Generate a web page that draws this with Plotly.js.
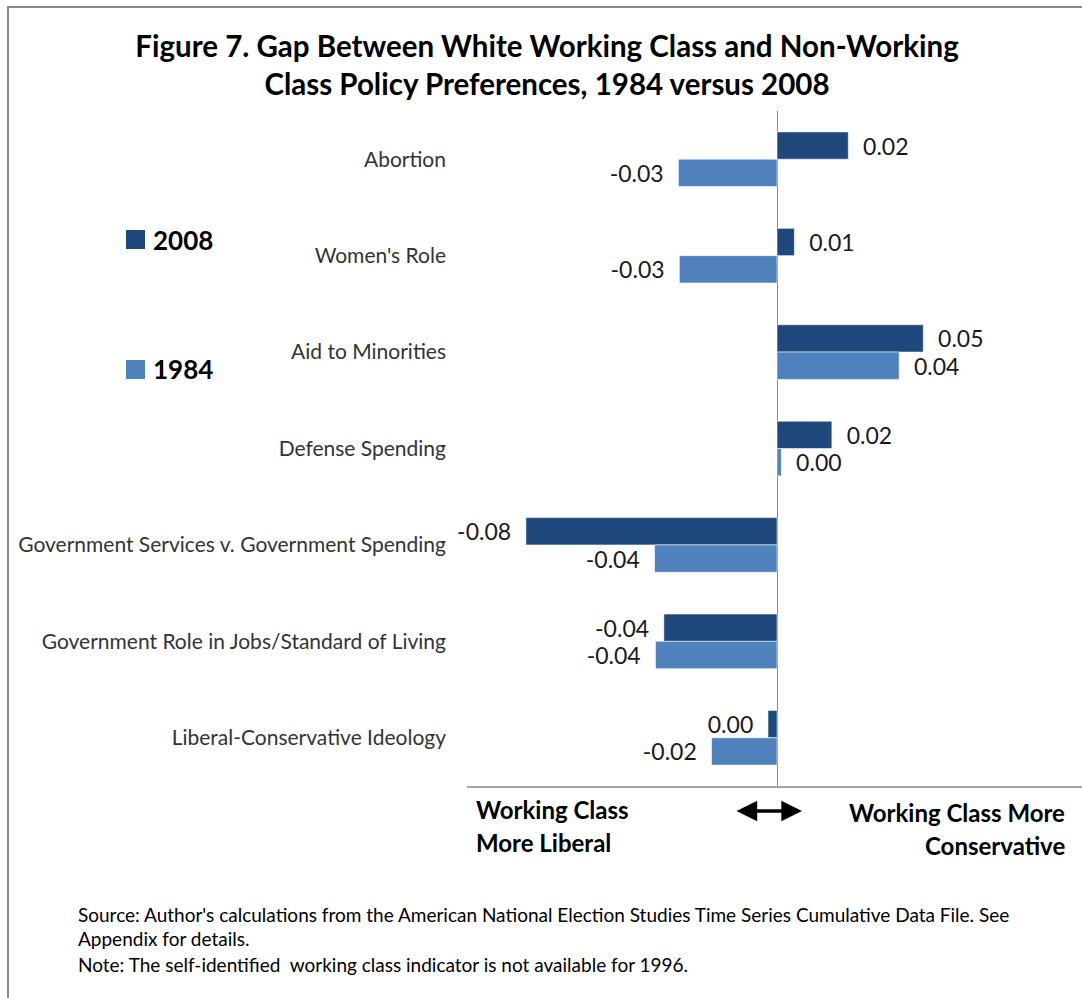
<!DOCTYPE html>
<html>
<head>
<meta charset="utf-8">
<script src="https://cdn.plot.ly/plotly-3.0.1.min.js"></script>
<style>
  html, body { margin: 0; padding: 0; background: #fff; overflow: hidden; }
  #chart { width: 1082px; height: 998px; }
</style>
</head>
<body>
<div id="chart"></div>
<script>
// ---- data ----
const categories = [
  "Abortion",
  "Women's Role",
  "Aid to Minorities",
  "Defense Spending",
  "Government Services v. Government Spending",
  "Government Role in Jobs/Standard of Living",
  "Liberal-Conservative Ideology"
];
const seriesNames = ["2008", "1984"];
const values2008 = [0.0230, 0.0056, 0.0472, 0.0177, -0.0810, -0.0365, -0.0029];
const values1984 = [-0.0318, -0.0315, 0.0394, 0.0014, -0.0395, -0.0392, -0.0211];
const seriesColors = ["#1F497D", "#4F81BD"];

const titleText = "Figure 7. Gap Between White Working Class and Non-Working<br>Class Policy Preferences, 1984 versus 2008";
const leftNote = ["Working Class", "More Liberal"];
const rightNote = ["Working Class More", "Conservative"];
const sourceLines = [
  "Source: Author's calculations from the American National Election Studies Time Series Cumulative Data File. See",
  "Appendix for details.",
  "Note: The self-identified  working class indicator is not available for 1996."
];

// ---- layout geometry (pixels) ----
const W = 1082, H = 998;
const L = 467, R = 0, T = 111, B = 212;
const PW = W - L - R, PH = H - T - B;
const px = x => (x - L) / PW;
const py = y => (H - B - y) / PH;

const NB = "\u00A0";
function fmt(v) { return Math.abs(v) < 0.005 ? "0.00" : v.toFixed(2); }
function labels(vals) {
  return vals.map(v => v >= 0 ? NB + NB + fmt(v) : fmt(v) + NB + NB);
}

const FONT = "Lato, 'Open Sans', sans-serif";

function barTrace(name, vals, color) {
  return {
    type: "bar",
    orientation: "h",
    name: name,
    y: categories,
    x: vals,
    text: labels(vals),
    textposition: "outside",
    constraintext: "none",
    cliponaxis: false,
    textfont: { family: FONT, size: 23, color: "#1a1a1a" },
    marker: { color: color, line: { color: "rgba(255,255,255,0.55)", width: 1 } },
    hoverinfo: "y+x",
    showlegend: false
  };
}

const data = [
  barTrace(seriesNames[0], values2008, seriesColors[0]),
  barTrace(seriesNames[1], values1984, seriesColors[1])
];

const annotations = [];
// legend texts
const legendY = [240, 369];
seriesNames.forEach((n, i) => {
  annotations.push({
    xref: "paper", yref: "paper", x: px(151), y: py(legendY[i]),
    xanchor: "left", yanchor: "middle", showarrow: false,
    text: "<b>" + n + "</b>", font: { family: FONT, size: 26, color: "#000" }
  });
});
// bottom direction notes
const noteFont = { family: FONT, size: 24, color: "#000" };
[[809, leftNote[0]], [842, leftNote[1]]].forEach(([y, t]) => annotations.push({
  xref: "paper", yref: "paper", x: px(474), y: py(y), xanchor: "left", yanchor: "middle",
  showarrow: false, text: "<b>" + t + "</b>", font: noteFont
}));
[[812, rightNote[0]], [846, rightNote[1]]].forEach(([y, t]) => annotations.push({
  xref: "paper", yref: "paper", x: px(1067), y: py(y), xanchor: "right", yanchor: "middle",
  showarrow: false, text: "<b>" + t + "</b>", font: noteFont
}));
// double arrow
annotations.push({
  xref: "paper", yref: "paper", x: px(802), y: py(811), ax: -67, ay: 0,
  axref: "pixel", ayref: "pixel",
  text: "", showarrow: true, arrowside: "end+start", arrowhead: 2, arrowsize: 1.15,
  arrowwidth: 3.6, arrowcolor: "#000"
});
// source lines
const srcY = [914, 939, 964];
sourceLines.forEach((t, i) => annotations.push({
  xref: "paper", yref: "paper", x: px(76), y: py(srcY[i]), xanchor: "left", yanchor: "middle",
  showarrow: false, text: t, font: { family: FONT, size: 19, color: "#000" }
}));

const shapes = [
  // outer frame
  { type: "rect", xref: "paper", yref: "paper", x0: px(8), x1: px(1095), y0: py(1005), y1: py(7),
    line: { color: "#8a8a8a", width: 2 }, fillcolor: "rgba(0,0,0,0)", layer: "below" }
];
// legend swatches
const swatchTop = [230, 360];
seriesColors.forEach((c, i) => shapes.push({
  type: "rect", xref: "paper", yref: "paper",
  x0: px(126), x1: px(145), y0: py(swatchTop[i] + 19), y1: py(swatchTop[i]),
  fillcolor: c, line: { width: 0 }
}));

const layout = {
  width: W, height: H,
  margin: { l: L, r: R, t: T, b: B, pad: 0 },
  paper_bgcolor: "#fff", plot_bgcolor: "#fff",
  barmode: "group",
  bargap: 0.433,
  bargroupgap: 0,
  title: {
    text: "<b>" + titleText + "</b>",
    x: 547 / W, xanchor: "center", xref: "container",
    y: 1 - 57 / H, yanchor: "middle", yref: "container",
    font: { family: FONT, size: 29.5, color: "#000" }
  },
  xaxis: {
    range: [-0.1, -0.1 + PW / 3100],
    showticklabels: false, ticks: "", showgrid: false,
    zeroline: true, zerolinecolor: "#8c8c8c", zerolinewidth: 1.2,
    showline: true, linecolor: "#a6a6a6", linewidth: 2, side: "bottom",
    fixedrange: true
  },
  yaxis: {
    type: "category",
    autorange: "reversed",
    showgrid: false, zeroline: false, showline: false, ticks: "",
    ticklabelstandoff: 20,
    tickfont: { family: FONT, size: 21, color: "#333" },
    fixedrange: true
  },
  showlegend: false,
  annotations: annotations,
  shapes: shapes,
  font: { family: FONT }
};

Plotly.newPlot("chart", data, layout, { displayModeBar: false, staticPlot: false });
</script>
</body>
</html>
